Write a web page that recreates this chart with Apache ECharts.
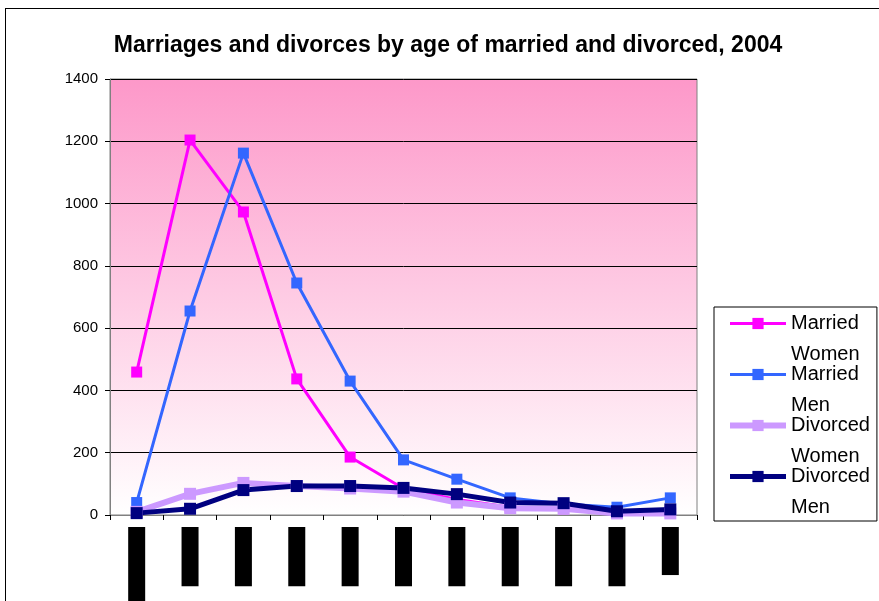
<!DOCTYPE html>
<html>
<head>
<meta charset="utf-8">
<script src="https://cdn.jsdelivr.net/npm/echarts@6/dist/echarts.min.js"></script>
<style>
  html, body { margin: 0; padding: 0; background: #fff; }
  .frame { position: absolute; left: 5px; top: 8px; width: 874px; height: 593px;
           border-top: 1px solid #000; border-left: 1px solid #000; }
  #chart { position: absolute; left: 0; top: 0; width: 879px; height: 601px; }
</style>
</head>
<body>
<div class="frame"></div>
<div id="chart"></div>
<script>
  // age groups
  var categories = ['Under 20', '20-24', '25-29', '30-34', '35-39', '40-44', '45-49', '50-54', '55-59', '60-64', '65+'];
  var marriedWomen = [459, 1204, 973, 437, 186, 85, 50, 25, 20, 5, 10];
  var marriedMen = [40, 655, 1162, 745, 430, 177, 115, 55, 35, 25, 55];
  var divorcedWomen = [10, 68, 103, 93, 85, 75, 40, 22, 20, 5, 5];
  var divorcedMen = [6, 20, 80, 93, 93, 87, 67, 40, 38, 12, 18];
  var yTicks = [0, 200, 400, 600, 800, 1000, 1200, 1400];

  var myChart = echarts.init(document.getElementById('chart'));

  function line(name, data, color, width, sym) {
    return {
      name: name,
      type: 'line',
      data: data,
      symbol: 'rect',
      symbolSize: sym,
      showSymbol: true,
      lineStyle: { color: color, width: width },
      itemStyle: { color: color },
      emphasis: { disabled: true }
    };
  }

  var option = {
    animation: false,
    title: {
      text: 'Marriages and divorces by age of married and divorced, 2004',
      left: 443,
      textAlign: 'center',
      top: 29,
      textStyle: { fontFamily: 'Liberation Sans', fontSize: 23, fontWeight: 'bold', color: '#000' }
    },
    legend: {
      orient: 'vertical',
      left: 714,
      top: 307,
      padding: [-30, 7, -2, 13],
      borderColor: '#000',
      borderWidth: 1,
      itemWidth: 56,
      itemHeight: 14,
      itemGap: -42,
      lineStyle: { width: 'inherit' },
      // blank first line keeps the icon level with the first word
      formatter: function (n) { return ' \n' + n.replace(' ', '\n'); },
      textStyle: {
        fontFamily: 'Liberation Sans', fontSize: 20, color: '#000', lineHeight: 31
      },
      data: ['Married Women', 'Married Men', 'Divorced Women', 'Divorced Men']
    },
    grid: {
      left: 110, right: 182, top: 79, bottom: 86,
      outerBoundsMode: 'none',
      show: true,
      borderColor: '#808080',
      borderWidth: 1,
      backgroundColor: new echarts.graphic.LinearGradient(0, 0, 0, 1, [
        { offset: 0, color: '#fd98c9' },
        { offset: 1, color: '#ffffff' }
      ])
    },
    xAxis: {
      type: 'category',
      data: categories,
      boundaryGap: true,
      axisLine: { lineStyle: { color: '#808080', width: 1 } },
      axisTick: { show: true, length: 5, lineStyle: { color: '#000' } },
      axisLabel: {
        rotate: 90,
        interval: 0,
        margin: 12,
        fontFamily: 'Liberation Sans',
        fontSize: 13,
        lineHeight: 15,
        color: '#000',
        backgroundColor: '#000',
        padding: [1, 13, 1, 13]
      }
    },
    yAxis: {
      type: 'value',
      min: yTicks[0],
      max: yTicks[yTicks.length - 1],
      interval: 200,
      axisLine: { show: true, lineStyle: { color: '#808080' } },
      axisTick: { show: true, length: 5, lineStyle: { color: '#000' } },
      axisLabel: {
        margin: 12, fontFamily: 'Liberation Sans', fontSize: 15, color: '#000',
        formatter: function (v) { return String(v); }
      },
      splitLine: { show: true, lineStyle: { color: '#000', width: 1 } }
    },
    series: [
      line('Married Women', marriedWomen, '#ff00ff', 3, 11),
      line('Married Men', marriedMen, '#3366ff', 3, 11),
      line('Divorced Women', divorcedWomen, '#cc99ff', 6, 12),
      line('Divorced Men', divorcedMen, '#000080', 5, 12)
    ]
  };

  myChart.setOption(option);
</script>
</body>
</html>
